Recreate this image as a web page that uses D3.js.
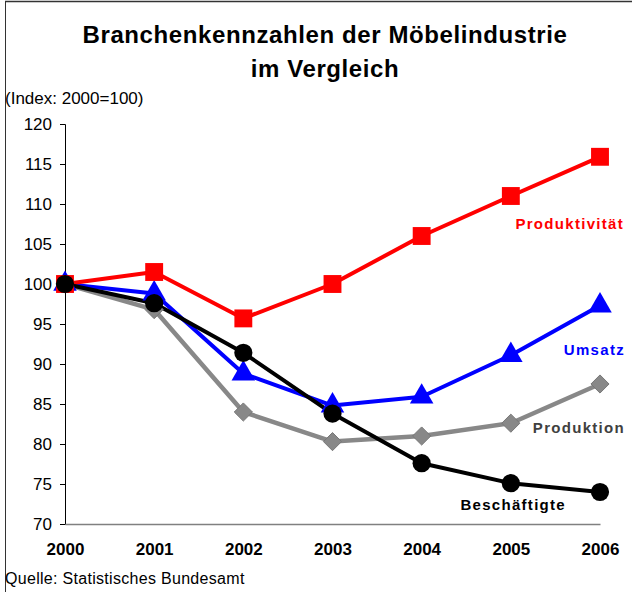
<!DOCTYPE html>
<html><head><meta charset="utf-8">
<script src="https://cdn.jsdelivr.net/npm/d3@7"></script>
<style>body{margin:0;background:#fff}svg{display:block}text{font-family:"Liberation Sans",Arial,sans-serif}</style>
</head><body><svg id="c" width="632" height="592"></svg>
<script>
const years = ["2000","2001","2002","2003","2004","2005","2006"];
const yTicks = [70,75,80,85,90,95,100,105,110,115,120];
const produktivitaet = [100,101.5,95.7,100,106,111,115.9];
const umsatz = [100,98.8,88.8,84.8,85.9,91.1,97.3];
const produktion = [100,96.8,84,80.3,81,82.6,87.5];
const beschaeftigte = [100,97.6,91.4,83.8,77.6,75.1,74];
const seriesNames = ["Produktion","Umsatz","Produktivität","Beschäftigte"];

const svg = d3.select("#c");
const x = d3.scalePoint().domain(years).range([65,600]);
const y = d3.scaleLinear().domain([70,120]).range([524,124]);

// frame
svg.append("line").attr("x1",5.5).attr("x2",5.5).attr("y1",1).attr("y2",592).attr("stroke","#333").attr("stroke-width",1);
svg.append("line").attr("x1",5).attr("x2",632).attr("y1",1.5).attr("y2",1.5).attr("stroke","#333").attr("stroke-width",1.5);

// title
svg.append("text").attr("x",325).attr("y",43).attr("text-anchor","middle").attr("font-size",24).attr("letter-spacing",0.6).attr("font-weight","bold").text("Branchenkennzahlen der Möbelindustrie");
svg.append("text").attr("x",325).attr("y",77).attr("text-anchor","middle").attr("font-size",24).attr("letter-spacing",0.6).attr("font-weight","bold").text("im Vergleich");
svg.append("text").attr("x",5).attr("y",104).attr("font-size",17).text("(Index: 2000=100)");
svg.append("text").attr("x",5).attr("y",584).attr("font-size",16).attr("letter-spacing",0.3).text("Quelle: Statistisches Bundesamt");

// axes
const ya = svg.append("g").attr("transform","translate(65,0)").call(d3.axisLeft(y).tickValues(yTicks).tickSize(5).tickPadding(8));
ya.select(".domain").attr("stroke","#000");
ya.selectAll("text").attr("font-size",17).attr("font-family","Liberation Sans, Arial, sans-serif").attr("fill","#000");
const xa = svg.append("g").attr("transform","translate(0,524)").call(d3.axisBottom(x).tickSize(0).tickPadding(19));
xa.select(".domain").attr("stroke","#808080").attr("stroke-width",1.5);
xa.selectAll("text").attr("font-size",17).attr("font-weight","bold").attr("font-family","Liberation Sans, Arial, sans-serif").attr("fill","#000");

const data = {
  "Produktion": {vals: produktion, color:"#888888", stroke:"#777777", sym:d3.symbolDiamond2, size:210, lw:4.5},
  "Umsatz": {vals: umsatz, color:"#0000ff", stroke:"none", sym:d3.symbolTriangle, size:240, lw:4},
  "Produktivität": {vals: produktivitaet, color:"#ff0000", stroke:"none", sym:d3.symbolSquare, size:320, lw:4},
  "Beschäftigte": {vals: beschaeftigte, color:"#000000", stroke:"none", sym:d3.symbolCircle, size:260, lw:4}
};
const line = d3.line().x((d,i)=>x(years[i])).y(d=>y(d));
seriesNames.forEach(n=>{
  const s = data[n];
  svg.append("path").attr("d",line(s.vals)).attr("fill","none").attr("stroke",s.color).attr("stroke-width",s.lw).attr("stroke-linejoin","round");
});
seriesNames.forEach(n=>{
  const s = data[n];
  svg.selectAll(null).data(s.vals).enter().append("path")
    .attr("d",d3.symbol().type(s.sym).size(s.size))
    .attr("transform",(d,i)=>`translate(${x(years[i])},${y(d)})`)
    .attr("fill",s.color).attr("stroke",s.stroke).attr("stroke-width",1);
});

// labels
const labels = [
  {t:"Produktivität", x:624, y:229, c:"#ff0000"},
  {t:"Umsatz", x:625, y:355, c:"#0000ff"},
  {t:"Produktion", x:625, y:433, c:"#404040"},
  {t:"Beschäftigte", x:566, y:510, c:"#000000"}
];
labels.forEach(l=>svg.append("text").attr("x",l.x).attr("y",l.y).attr("text-anchor","end").attr("font-size",15).attr("font-weight","bold").attr("letter-spacing",1.3).attr("fill",l.c).text(l.t));
</script></body></html>
